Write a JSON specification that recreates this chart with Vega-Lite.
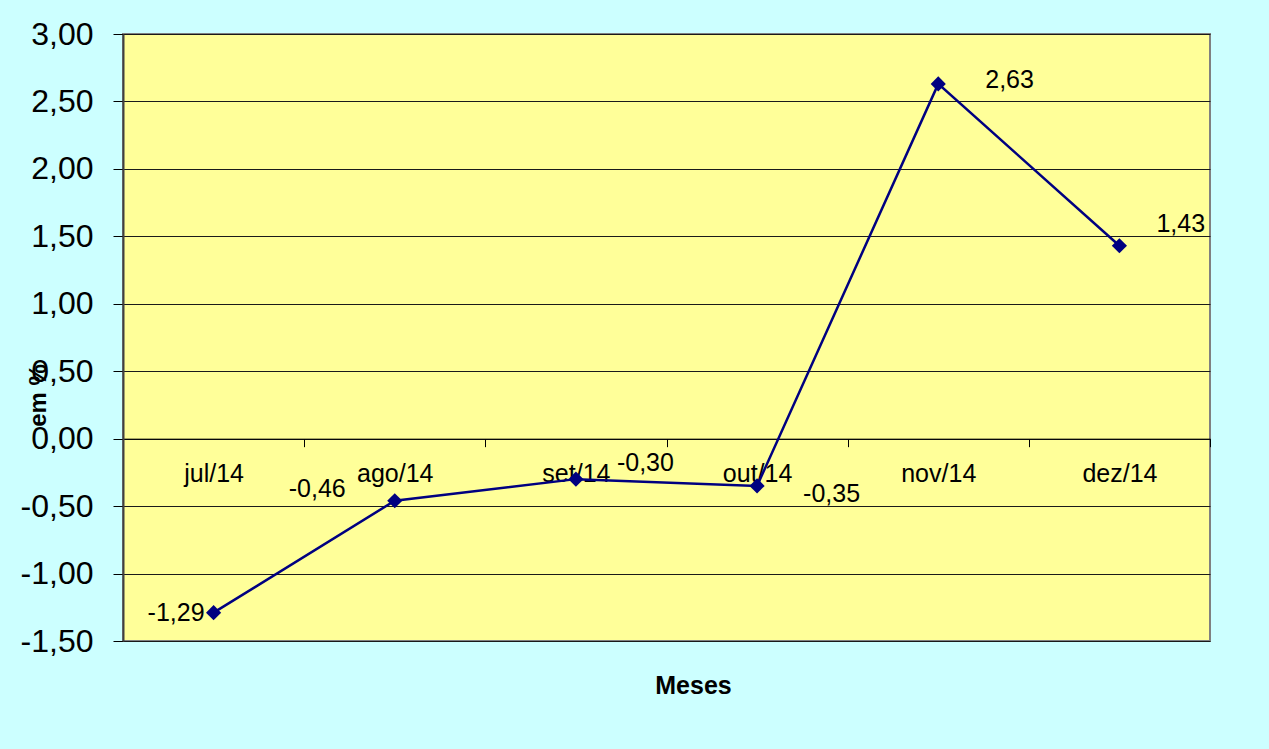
{
  "$schema": "https://vega.github.io/schema/vega-lite/v6.json",
  "width": 1087,
  "height": 607,
  "autosize": {"type": "none"},
  "padding": {"left": 123, "top": 34, "right": 59, "bottom": 108},
  "background": "#CCFFFF",
  "config": {
    "font": "Liberation Sans",
    "locale": {"number": {"decimal": ",", "thousands": ".", "grouping": [3], "currency": ["R$", ""], "minus": "-"}},
    "view": {"fill": "#FFFF99", "stroke": "#808080", "strokeWidth": 2}
  },
  "data": {
    "values": [
      {"mes": "jul/14", "valor": -1.29},
      {"mes": "ago/14", "valor": -0.46},
      {"mes": "set/14", "valor": -0.30},
      {"mes": "out/14", "valor": -0.35},
      {"mes": "nov/14", "valor": 2.63},
      {"mes": "dez/14", "valor": 1.43}
    ]
  },
  "encoding": {
    "x": {
      "field": "mes",
      "type": "ordinal",
      "sort": null,
      "scale": {"type": "band", "paddingInner": 0, "paddingOuter": 0},
      "axis": {
        "title": "Meses",
        "titleFontSize": 25,
        "titleFontWeight": "bold",
        "titleColor": "#000000",
        "titleX": 570,
        "titleY": 247,
        "titleBaseline": "middle",
        "titleAlign": "center",
        "offset": -202.33,
        "tickBand": "extent",
        "tickSize": 8,
        "tickColor": "#000000",
        "domainColor": "#000000",
        "labelAngle": 0,
        "labelFontSize": 25,
        "labelColor": "#000000",
        "labelPadding": 15,
        "grid": false
      }
    },
    "y": {
      "field": "valor",
      "type": "quantitative",
      "scale": {"domain": [-1.5, 3], "nice": false, "zero": false},
      "axis": {
        "title": "em %",
        "titleFontSize": 24,
        "titleFontWeight": "bold",
        "titleColor": "#000000",
        "titleX": -85,
        "titleY": 361,
        "titleAlign": "center",
        "titleBaseline": "middle",
        "values": [-1.5, -1, -0.5, 0, 0.5, 1, 1.5, 2, 2.5, 3],
        "format": ".2f",
        "labelFontSize": 32,
        "labelColor": "#000000",
        "labelPadding": 20,
        "tickSize": 10,
        "tickColor": "#000000",
        "domainColor": "#404040",
        "domainWidth": 2,
        "grid": true,
        "gridColor": "#1a1a1a",
        "gridWidth": 1,
        "gridOpacity": 1
      }
    }
  },
  "layer": [
    {"mark": {"type": "line", "color": "#000080", "strokeWidth": 2.5}},
    {"mark": {"type": "point", "shape": "diamond", "filled": true, "color": "#000080", "opacity": 1, "size": 230}},
    {
      "transform": [{"filter": "datum.mes == 'jul/14'"}],
      "mark": {"type": "text", "align": "right", "baseline": "middle", "dx": -9, "dy": 0, "fontSize": 25, "color": "#000000"},
      "encoding": {"text": {"field": "valor", "type": "quantitative", "format": ".2f"}}
    },
    {
      "transform": [{"filter": "datum.mes == 'ago/14'"}],
      "mark": {"type": "text", "align": "right", "baseline": "middle", "dx": -49, "dy": -12, "fontSize": 25, "color": "#000000"},
      "encoding": {"text": {"field": "valor", "type": "quantitative", "format": ".2f"}}
    },
    {
      "transform": [{"filter": "datum.mes == 'set/14'"}],
      "mark": {"type": "text", "align": "left", "baseline": "middle", "dx": 41, "dy": -16, "fontSize": 25, "color": "#000000"},
      "encoding": {"text": {"field": "valor", "type": "quantitative", "format": ".2f"}}
    },
    {
      "transform": [{"filter": "datum.mes == 'out/14'"}],
      "mark": {"type": "text", "align": "left", "baseline": "middle", "dx": 46, "dy": 8, "fontSize": 25, "color": "#000000"},
      "encoding": {"text": {"field": "valor", "type": "quantitative", "format": ".2f"}}
    },
    {
      "transform": [{"filter": "datum.mes == 'nov/14'"}],
      "mark": {"type": "text", "align": "left", "baseline": "middle", "dx": 47, "dy": -4, "fontSize": 25, "color": "#000000"},
      "encoding": {"text": {"field": "valor", "type": "quantitative", "format": ".2f"}}
    },
    {
      "transform": [{"filter": "datum.mes == 'dez/14'"}],
      "mark": {"type": "text", "align": "left", "baseline": "middle", "dx": 37, "dy": -22, "fontSize": 25, "color": "#000000"},
      "encoding": {"text": {"field": "valor", "type": "quantitative", "format": ".2f"}}
    }
  ]
}
